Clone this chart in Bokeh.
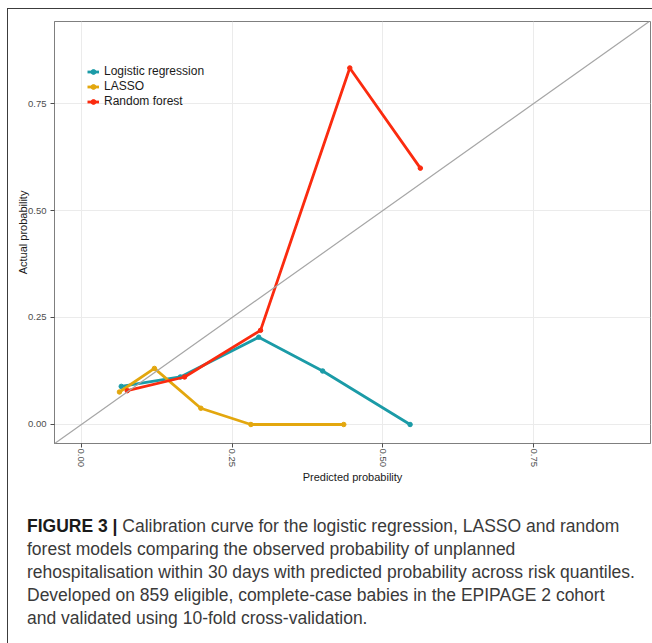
from bokeh.plotting import figure
from bokeh.layouts import column
from bokeh.models import (Slope, Legend, LegendItem, FixedTicker, Range1d, Div)
from bokeh.embed import file_html
from bokeh.resources import INLINE

# ---- data ----
model_names = ["Logistic regression", "LASSO", "Random forest"]
model_colors = ["#1b9ba7", "#e3a70e", "#fb2b0f"]

lr_pred = [0.066, 0.164, 0.294, 0.400, 0.545]
lr_obs = [0.089, 0.111, 0.204, 0.125, 0.000]

lasso_pred = [0.063, 0.121, 0.198, 0.281, 0.435]
lasso_obs = [0.076, 0.131, 0.038, 0.000, 0.000]

rf_pred = [0.076, 0.171, 0.297, 0.445, 0.562]
rf_obs = [0.079, 0.111, 0.220, 0.833, 0.599]

tick_values = [0.0, 0.25, 0.5, 0.75]
tick_labels = ["0.00", "0.25", "0.50", "0.75"]

caption_bold = "FIGURE 3 |"
caption_lines = [
    "Calibration curve for the logistic regression, LASSO and random",
    "forest models comparing the observed probability of unplanned",
    "rehospitalisation within 30 days with predicted probability across risk quantiles.",
    "Developed on 859 eligible, complete-case babies in the EPIPAGE 2 cohort",
    "and validated using 10-fold cross-validation.",
]

FONT = "Liberation Sans"
W, H = 643, 486
LEFT, RIGHT, TOP, BOTTOM = 46, 1, 12, 52

p = figure(width=W, height=H, output_backend="svg", toolbar_location=None,
           x_range=Range1d(-0.0447, 0.9437), y_range=Range1d(-0.0444, 0.9416),
           min_border_left=LEFT, min_border_right=RIGHT,
           min_border_top=TOP, min_border_bottom=BOTTOM,
           background_fill_color="white", border_fill_color="white",
           x_axis_label="Predicted probability", y_axis_label="Actual probability")

p.outline_line_color = "#7f7f7f"
p.outline_line_width = 1

for ax in (p.xaxis[0], p.yaxis[0]):
    ax.ticker = FixedTicker(ticks=tick_values)
    ax.major_label_overrides = {v: l for v, l in zip(tick_values, tick_labels)}
    ax.axis_line_color = "#7f7f7f"
    ax.major_tick_line_color = "#4d4d4d"
    ax.major_tick_in = 0
    ax.major_tick_out = 4
    ax.minor_tick_line_color = None
    ax.major_label_text_font = FONT
    ax.major_label_text_font_size = "9.5px"
    ax.major_label_text_color = "#4d4d4d"
    ax.axis_label_text_font = FONT
    ax.axis_label_text_font_size = "11px"
    ax.axis_label_text_font_style = "normal"
    ax.axis_label_text_color = "#1a1a1a"

p.xaxis.major_label_orientation = "vertical"
p.xaxis.major_label_standoff = 1
p.xaxis.axis_label_standoff = 1
p.yaxis.major_label_standoff = 4
p.yaxis.axis_label_standoff = -4

p.xgrid.grid_line_color = "#ebebeb"
p.ygrid.grid_line_color = "#ebebeb"

# perfect-calibration reference line y = x
p.add_layout(Slope(gradient=1, y_intercept=0, line_color="#a6a6a6", line_width=1.2))

series = [(lr_pred, lr_obs), (lasso_pred, lasso_obs), (rf_pred, rf_obs)]
items = []
for name, color, (xs, ys) in zip(model_names, model_colors, series):
    lr = p.line(xs, ys, line_color=color, line_width=2.8)
    sr = p.scatter(xs, ys, size=4.5, fill_color=color, line_color=color)
    items.append(LegendItem(label=name, renderers=[lr, sr]))

FRAME_H = H - TOP - BOTTOM
legend = Legend(items=items, location=(33, FRAME_H - 42.5 - 45),
                glyph_width=12, glyph_height=15, label_height=15,
                label_standoff=5, spacing=0, padding=0, margin=0,
                background_fill_alpha=0, border_line_alpha=0,
                label_text_font=FONT, label_text_font_size="12px",
                label_text_color="#1a1a1a")
p.add_layout(legend)

# caption below the chart
cap_html = (
    f'<div style="font-family:\'{FONT}\';font-size:17.5px;line-height:23px;'
    f'color:#3a3a3a;white-space:nowrap;padding-top:15px;padding-left:14px;">'
    f'<b style="color:#1a1a1a">{caption_bold}</b> '
    + "<br>".join(caption_lines)
    + "</div>"
)
cap = Div(text=cap_html, width=636, height=138)

layout = column(p, cap, spacing=0,
                styles={"margin-left": "7px", "margin-top": "8px",
                        "border-left": "1.5px solid #3c3c3c",
                        "border-top": "1.5px solid #3c3c3c"})

open("out.html", "w").write(file_html(layout, INLINE))
